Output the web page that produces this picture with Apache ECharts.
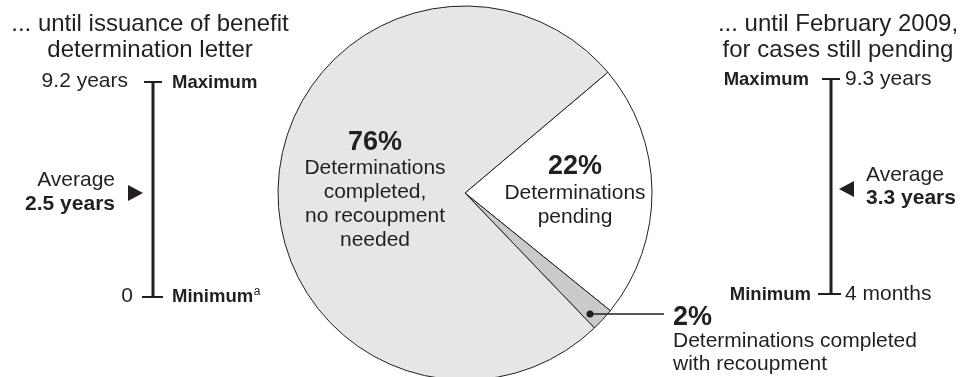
<!DOCTYPE html>
<html>
<head>
<meta charset="utf-8">
<script src="https://cdn.jsdelivr.net/npm/echarts@6/dist/echarts.min.js"></script>
<style>
  html, body { margin: 0; padding: 0; background: #fff; }
  #chart { width: 971px; height: 377px; }
</style>
</head>
<body>
<div id="chart"></div>
<script>
// slices, in clockwise order starting at the upper edge of the white wedge
const sliceNames = ['Determinations pending', 'Determinations completed with recoupment', 'Determinations completed, no recoupment needed'];
const sliceValues = [22, 2, 76];
const sliceColors = ['#ffffff', '#c9cacb', '#e6e6e7'];

// left panel: time until issuance of letter
const leftTitle = ['... until issuance of benefit', 'determination letter'];
const leftMax = '9.2 years';
const leftMin = '0';
const leftAvg = '2.5 years';

// right panel: time until Feb 2009, pending cases
const rightTitle = ['... until February 2009,', 'for cases still pending'];
const rightMax = '9.3 years';
const rightMin = '4 months';
const rightAvg = '3.3 years';

const ink = '#231f20';
const FONT = '"Liberation Sans", Arial, Helvetica, sans-serif';

function txt(x, y, text, size, opts) {
    opts = opts || {};
    return {
        type: 'text',
        x: x, y: y,
        z: 100,
        silent: true,
        style: {
            text: text,
            fill: ink,
            fontFamily: FONT,
            fontSize: size,
            fontWeight: opts.bold ? 'bold' : 'normal',
            textAlign: opts.align || 'center',
            textVerticalAlign: 'middle',
            lineHeight: opts.lh || size
        }
    };
}
function seg(x1, y1, x2, y2, w) {
    return {
        type: 'line', silent: true, z: 100,
        shape: { x1: x1, y1: y1, x2: x2, y2: y2 },
        style: { stroke: ink, lineWidth: w }
    };
}
function tri(points) {
    return { type: 'polygon', silent: true, z: 100, shape: { points: points }, style: { fill: ink } };
}

var myChart = echarts.init(document.getElementById('chart'));

var graphics = [
    // left panel
    txt(150, 24, leftTitle[0], 24),
    txt(150, 50, leftTitle[1], 24),
    seg(153, 82, 153, 297, 3),
    seg(144, 82, 162, 82, 2),
    seg(142, 297, 163, 297, 2),
    txt(128, 81, leftMax, 21, { align: 'right' }),
    txt(172, 83, 'Maximum', 18.5, { align: 'left', bold: true }),
    txt(133, 296, leftMin, 21, { align: 'right' }),
    txt(172, 297, 'Minimum', 18.5, { align: 'left', bold: true }),
    txt(257, 292, 'a', 12),
    tri([[128, 185], [128, 201], [143, 193]]),
    txt(115, 180, 'Average', 21, { align: 'right' }),
    txt(115, 204, leftAvg, 21, { align: 'right', bold: true }),

    // right panel
    txt(838, 24, rightTitle[0], 24),
    txt(838, 50, rightTitle[1], 24),
    seg(831, 79, 831, 294, 3),
    seg(822, 79, 840, 79, 2),
    seg(818, 294, 841, 294, 2),
    txt(809, 80, 'Maximum', 18.5, { align: 'right', bold: true }),
    txt(845, 79, rightMax, 21, { align: 'left' }),
    txt(811, 295, 'Minimum', 18.5, { align: 'right', bold: true }),
    txt(845, 294, rightMin, 21, { align: 'left' }),
    tri([[854, 181], [854, 197], [839, 189]]),
    txt(866, 175, 'Average', 21, { align: 'left' }),
    txt(866, 198, rightAvg, 21, { align: 'left', bold: true }),

    // slice labels
    txt(375, 143, sliceValues[2] + '%', 27, { bold: true }),
    txt(375, 204, 'Determinations\ncompleted,\nno recoupment\nneeded', 21, { lh: 24 }),
    txt(575, 167, sliceValues[0] + '%', 27, { bold: true }),
    txt(575, 205, 'Determinations\npending', 21, { lh: 24 }),

    // small slice callout
    { type: 'circle', silent: true, z: 100, shape: { cx: 590, cy: 314, r: 3.5 }, style: { fill: ink } },
    seg(590, 314, 664, 314, 1.5),
    txt(673, 318, sliceValues[1] + '%', 27, { align: 'left', bold: true }),
    txt(673, 341, 'Determinations completed', 21, { align: 'left' }),
    txt(673, 364, 'with recoupment', 21, { align: 'left' })
];

var option = {
    animation: false,
    backgroundColor: '#ffffff',
    series: [{
        type: 'pie',
        z: 1,
        center: [465, 193],
        radius: 187,
        startAngle: 40.2,
        clockwise: true,
        silent: true,
        label: { show: false },
        labelLine: { show: false },
        itemStyle: { borderColor: ink, borderWidth: 1 },
        data: sliceNames.map(function (n, i) {
            return { name: n, value: sliceValues[i], itemStyle: { color: sliceColors[i] } };
        })
    }],
    graphic: graphics
};
myChart.setOption(option);
</script>
</body>
</html>
